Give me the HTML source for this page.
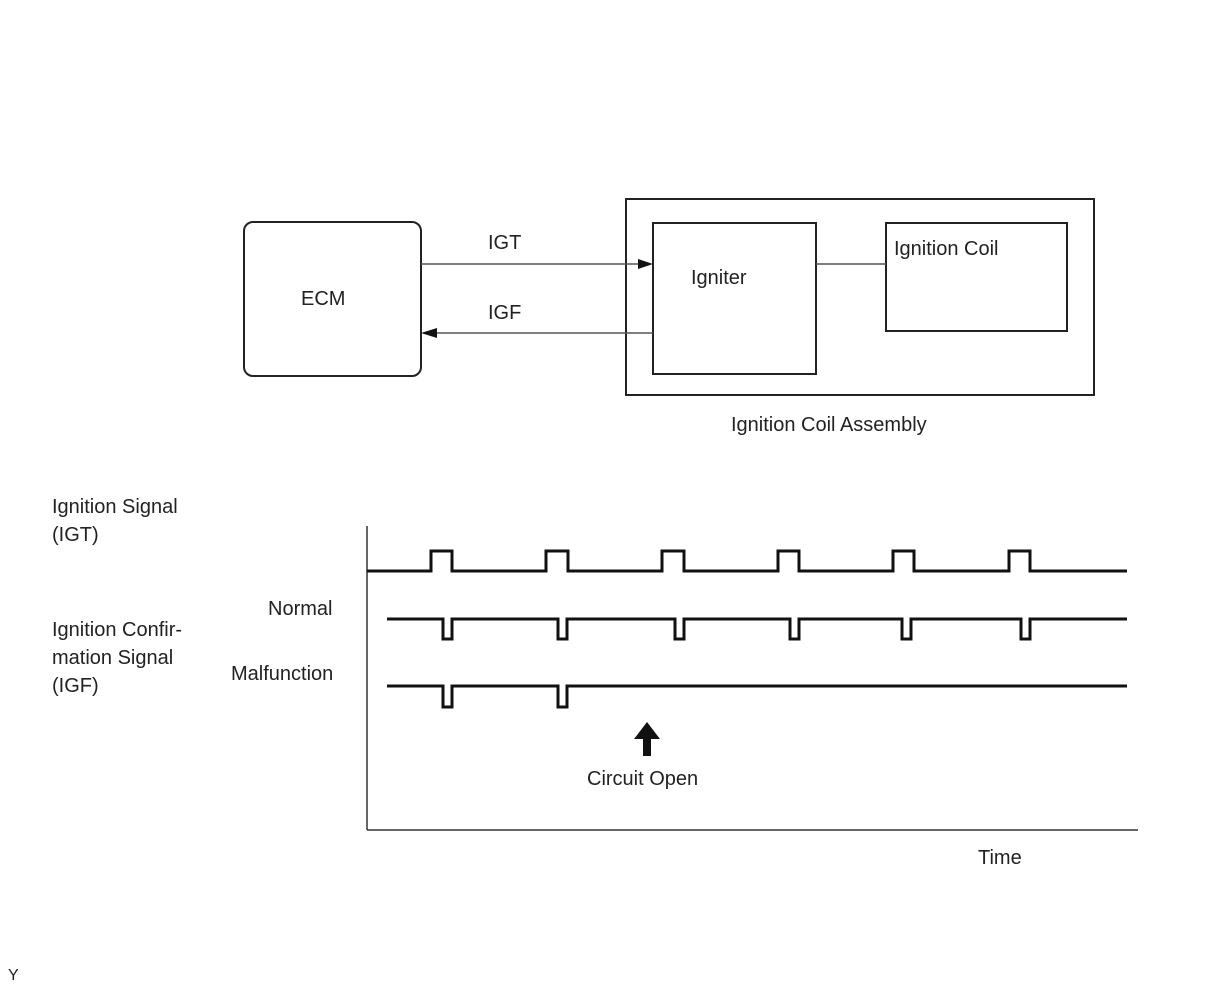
<!DOCTYPE html>
<html><head><style>html,body{margin:0;padding:0;background:#fff}svg{display:block}text{font-family:"Liberation Sans",sans-serif;fill:#222;font-size:20px}</style></head>
<body>
<svg width="1210" height="986" viewBox="0 0 1210 986">
<g fill="none" stroke="#222" stroke-width="2">
<rect x="244" y="222" width="177" height="154" rx="9"/>
<rect x="626" y="199" width="468" height="196"/>
<rect x="653" y="223" width="163" height="151"/>
<rect x="886" y="223" width="181" height="108"/>
</g>
<g stroke="#555" stroke-width="1.5">
<line x1="816" y1="264" x2="886" y2="264"/>
<line x1="421" y1="264" x2="640" y2="264"/>
<line x1="434" y1="333" x2="653" y2="333"/>
</g>
<polygon points="653,264 638,259 638,269" fill="#111"/>
<polygon points="421,333 437,328 437,338" fill="#111"/>
<text x="301" y="305">ECM</text>
<text x="488" y="249">IGT</text>
<text x="488" y="319">IGF</text>
<text x="691" y="284">Igniter</text>
<text x="894" y="255">Ignition Coil</text>
<text x="731" y="431">Ignition Coil Assembly</text>
<text x="52" y="513">Ignition Signal</text>
<text x="52" y="541">(IGT)</text>
<text x="52" y="636">Ignition Confir-</text>
<text x="52" y="664">mation Signal</text>
<text x="52" y="692">(IGF)</text>
<text x="268" y="615">Normal</text>
<text x="231" y="680">Malfunction</text>
<text x="587" y="785">Circuit Open</text>
<text x="978" y="864">Time</text>
<text x="8" y="980" style="font-size:16px">Y</text>
<g fill="none" stroke="#333" stroke-width="1.5">
<line x1="367" y1="526" x2="367" y2="830"/>
<line x1="367" y1="830" x2="1138" y2="830"/>
</g>
<g fill="none" stroke="#111" stroke-width="3">
<polyline points="367,571 431,571 431,551 452,551 452,571 546,571 546,551 568,551 568,571 662,571 662,551 684,551 684,571 778,571 778,551 799,551 799,571 893,571 893,551 914,551 914,571 1009,571 1009,551 1030,551 1030,571 1127,571"/>
<polyline points="387,619 443,619 443,639 452,639 452,619 558,619 558,639 567,639 567,619 675,619 675,639 684,639 684,619 790,619 790,639 799,639 799,619 902,619 902,639 911,639 911,619 1021,619 1021,639 1030,639 1030,619 1127,619"/>
<polyline points="387,686 443,686 443,707 452,707 452,686 558,686 558,707 567,707 567,686 1127,686"/>
</g>
<polygon points="647,722 660,739 651,739 651,756 643,756 643,739 634,739" fill="#111"/>
</svg>
</body></html>
